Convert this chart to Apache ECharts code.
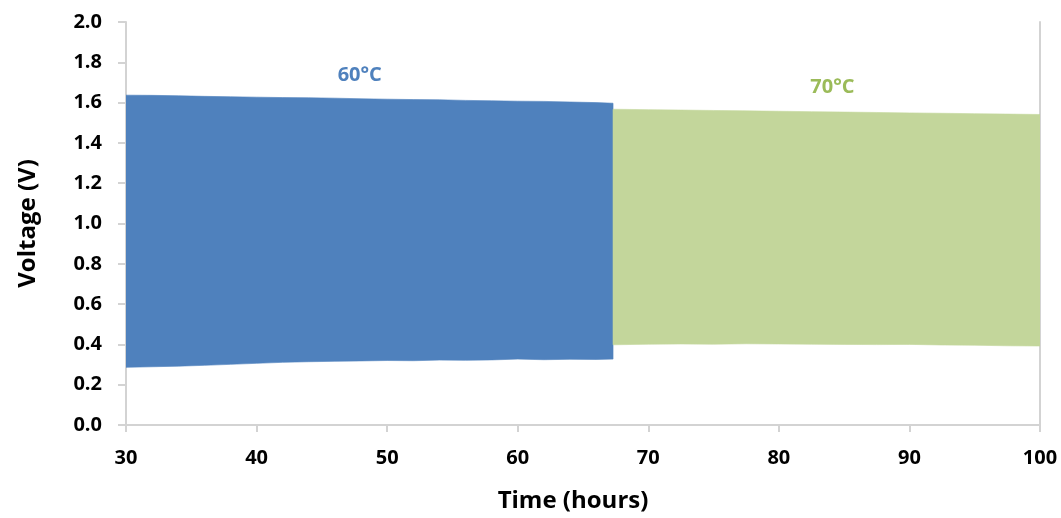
<!DOCTYPE html>
<html>
<head>
<meta charset="utf-8">
<script src="https://cdn.jsdelivr.net/npm/echarts@6/dist/echarts.min.js"></script>
<style>
html,body{margin:0;padding:0;background:#fff;}
#chart{width:1061px;height:518px;}
</style>
</head>
<body>
<div id="chart"></div>
<script>
// ---- data ----
const blueTimes  = [30, 32, 34, 36, 38, 40, 42, 44, 46, 48, 50, 52, 54, 56, 58, 60, 62, 64, 66, 67.3];
const blueUpper  = [1.637, 1.636, 1.634, 1.631, 1.629, 1.627, 1.625, 1.624, 1.622, 1.619, 1.617, 1.615, 1.614, 1.611, 1.609, 1.607, 1.606, 1.603, 1.600, 1.597];
const blueLower  = [0.286, 0.289, 0.292, 0.296, 0.301, 0.306, 0.311, 0.314, 0.316, 0.318, 0.320, 0.319, 0.322, 0.321, 0.323, 0.327, 0.324, 0.326, 0.325, 0.327];
const greenTimes = [67.3, 70, 72.5, 75, 77.5, 80, 82.5, 85, 87.5, 90, 92.5, 95, 97.5, 100];
const greenUpper = [1.567, 1.565, 1.563, 1.561, 1.559, 1.557, 1.555, 1.553, 1.551, 1.549, 1.547, 1.545, 1.543, 1.541];
const greenLower = [0.398, 0.401, 0.402, 0.401, 0.403, 0.402, 0.401, 0.400, 0.399, 0.400, 0.397, 0.396, 0.393, 0.392];
const xTicks = [30, 40, 50, 60, 70, 80, 90, 100];
const yTicks = [0.0, 0.2, 0.4, 0.6, 0.8, 1.0, 1.2, 1.4, 1.6, 1.8, 2.0];
const labels = [
  {text: '60°C', x: 47.9, y: 1.737, color: '#4f81bd'},
  {text: '70°C', x: 84.1, y: 1.677, color: '#9bbb59'}
];
const xName = 'Time (hours)';
const yName = 'Voltage (V)';

// ---- chart ----
const FONT = '"Open Sans", "Liberation Sans", sans-serif';
const AXIS_COLOR = '#d3d3d3';
const chart = echarts.init(document.getElementById('chart'));

// each data item: [time, upper, lower]; whole band drawn as one polygon
function bandSeries(t, up, lo, color) {
  const data = t.map((x, i) => [x, up[i], lo[i]]);
  return {
    type: 'custom', silent: true, clip: true,
    encode: {x: 0, y: [1, 2]},
    data: data,
    renderItem: function (params, api) {
      if (params.dataIndex !== 0) return null;
      const top = data.map(d => api.coord([d[0], d[1]]));
      const bot = data.map(d => api.coord([d[0], d[2]])).reverse();
      return {
        type: 'polygon',
        shape: {points: top.concat(bot)},
        style: {fill: color, stroke: color, lineWidth: 0.6}
      };
    }
  };
}

const option = {
  animation: false,
  backgroundColor: '#fff',
  grid: {left: 126, right: 21, top: 22, bottom: 92, containLabel: false},
  xAxis: {
    type: 'value', min: 30, max: 100, interval: 10,
    name: xName, nameLocation: 'middle', nameGap: 64,
    nameTextStyle: {fontFamily: FONT, fontWeight: 'bold', fontSize: 24, color: '#000',
                    padding: [0, 20, 0, 0]},
    axisLine: {show: true, lineStyle: {color: AXIS_COLOR, width: 2}},
    axisTick: {show: true, length: 7, lineStyle: {color: AXIS_COLOR, width: 2}},
    axisLabel: {fontFamily: FONT, fontWeight: 'bold', fontSize: 20, color: '#000', margin: 23,
                formatter: v => xTicks.includes(v) ? String(v) : ''},
    splitLine: {show: false}
  },
  yAxis: [{
    type: 'value', min: 0, max: 2, interval: 0.2,
    name: yName, nameLocation: 'middle', nameGap: 86, nameRotate: 90,
    nameTextStyle: {fontFamily: FONT, fontWeight: 'bold', fontSize: 24, color: '#000'},
    axisLine: {show: true, lineStyle: {color: AXIS_COLOR, width: 2}},
    axisTick: {show: true, length: 8, lineStyle: {color: AXIS_COLOR, width: 2}},
    axisLabel: {fontFamily: FONT, fontWeight: 'bold', fontSize: 20, color: '#000', margin: 24,
                formatter: v => {
                  const t = yTicks.find(y => Math.abs(y - v) < 1e-6);
                  return t === undefined ? '' : t.toFixed(1);
                }},
    splitLine: {show: false}
  }, {
    type: 'value', min: 0, max: 2, position: 'right',
    axisLine: {show: true, lineStyle: {color: AXIS_COLOR, width: 2}},
    axisTick: {show: false}, axisLabel: {show: false}, splitLine: {show: false}
  }],
  series: [
    bandSeries(blueTimes, blueUpper, blueLower, '#4f81bd'),
    bandSeries(greenTimes, greenUpper, greenLower, '#c3d69b'),
    {
      type: 'scatter', silent: true, symbolSize: 0,
      itemStyle: {opacity: 1},
      data: labels.map(l => ({
        value: [l.x, l.y],
        label: {show: true, formatter: l.text, color: l.color, opacity: 1, fontFamily: FONT,
                fontWeight: 'bold', fontSize: 20, position: 'inside'}
      }))
    }
  ]
};
chart.setOption(option);
</script>
</body>
</html>
